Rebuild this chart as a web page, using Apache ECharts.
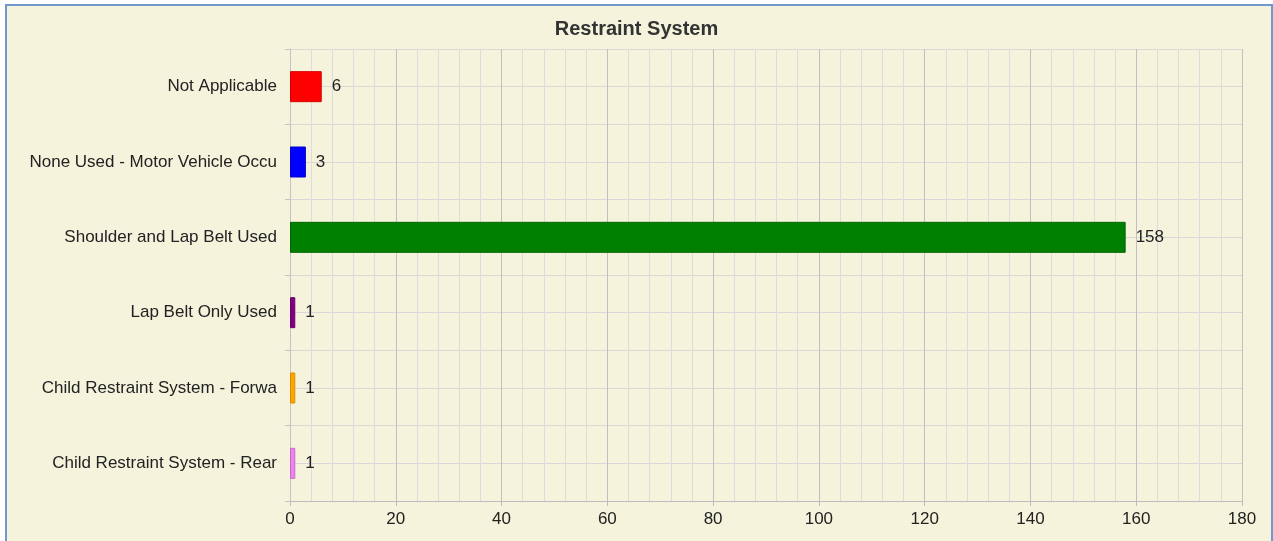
<!DOCTYPE html>
<html lang="en">
<head>
    <meta charset="utf-8">
    <title>Restraint System</title>
    <script src="https://cdn.jsdelivr.net/npm/echarts@6/dist/echarts.min.js"></script>
    <style>
        html, body { margin: 0; padding: 0; background: #ffffff; }
        #frame {
            position: absolute; left: 5px; top: 4px; width: 1264px; height: 560px;
            border: 2px solid #7098cc; background: #f5f3dc;
        }
        #main { position: absolute; left: 0; top: 0; width: 1273px; height: 541px; }
    </style>
    <script type="text/javascript">
    var categories = ['Not Applicable', 'None Used - Motor Vehicle Occu', 'Shoulder and Lap Belt Used',
                      'Lap Belt Only Used', 'Child Restraint System - Forwa', 'Child Restraint System - Rear'];
    var counts = [6, 3, 158, 1, 1, 1];
    var barColors = ['#ff0000', '#0000ff', '#008000', '#800080', '#ffa500', '#ee82ee'];
    var borderColors = ['#d40000', '#0000c8', '#006400', '#6a006a', '#d98c00', '#c86ac8'];

    window.onload = function () {
        var myChart = echarts.init(document.getElementById('main'));
        var font = '"Liberation Sans", Arial, sans-serif';
        var option = {
            backgroundColor: 'transparent',
            animation: false,
            title: {
                text: 'Restraint System',
                left: 'center',
                top: 19,
                padding: 0,
                textStyle: { fontFamily: font, fontSize: 20, fontWeight: 'bold', color: '#333333' }
            },
            grid: { left: 290, right: 31, top: 49, bottom: 40, containLabel: false },
            xAxis: {
                type: 'value',
                min: 0, max: 180, interval: 20,
                axisLine: { show: true, lineStyle: { color: '#bdbdbd', width: 1 } },
                axisTick: { show: true, length: 5, lineStyle: { color: '#bdbdbd' } },
                axisLabel: { margin: 10, fontFamily: font, fontSize: 17, color: '#222222' },
                splitLine: { show: true, lineStyle: { color: '#c0c0c0', width: 1 } },
                minorTick: { show: false, splitNumber: 5 },
                minorSplitLine: { show: true, lineStyle: { color: '#dcdcdc', width: 1 } }
            },
            yAxis: [
                {
                    type: 'category',
                    data: categories,
                    inverse: true,
                    axisLine: { show: true, lineStyle: { color: '#c4c4c4' } },
                    axisTick: { show: true, length: 5, lineStyle: { color: '#c4c4c4' } },
                    axisLabel: { margin: 13, fontFamily: font, fontSize: 17, color: '#222222' },
                    splitLine: { show: true, lineStyle: { color: '#d0d0d0' } }
                },
                {
                    // hidden helper axis for the mid-band grid lines
                    type: 'value',
                    position: 'left',
                    min: 0, max: 12, interval: 1,
                    axisLine: { show: false }, axisTick: { show: false }, axisLabel: { show: false },
                    splitLine: { show: true, lineStyle: { color: '#d8d8d8' } }
                }
            ],
            series: [{
                type: 'bar',
                yAxisIndex: 0,
                barWidth: 31,
                data: counts.map(function (v, i) {
                    return {
                        value: v,
                        itemStyle: { color: barColors[i], borderColor: borderColors[i], borderWidth: 1 }
                    };
                }),
                label: {
                    show: true, position: 'right', distance: 10,
                    fontFamily: font, fontSize: 17, color: '#222222'
                }
            }]
        };
        myChart.setOption(option);
    };
    </script>
</head>
<body>
    <div id="frame"></div>
    <div id="main"></div>
</body>
</html>
